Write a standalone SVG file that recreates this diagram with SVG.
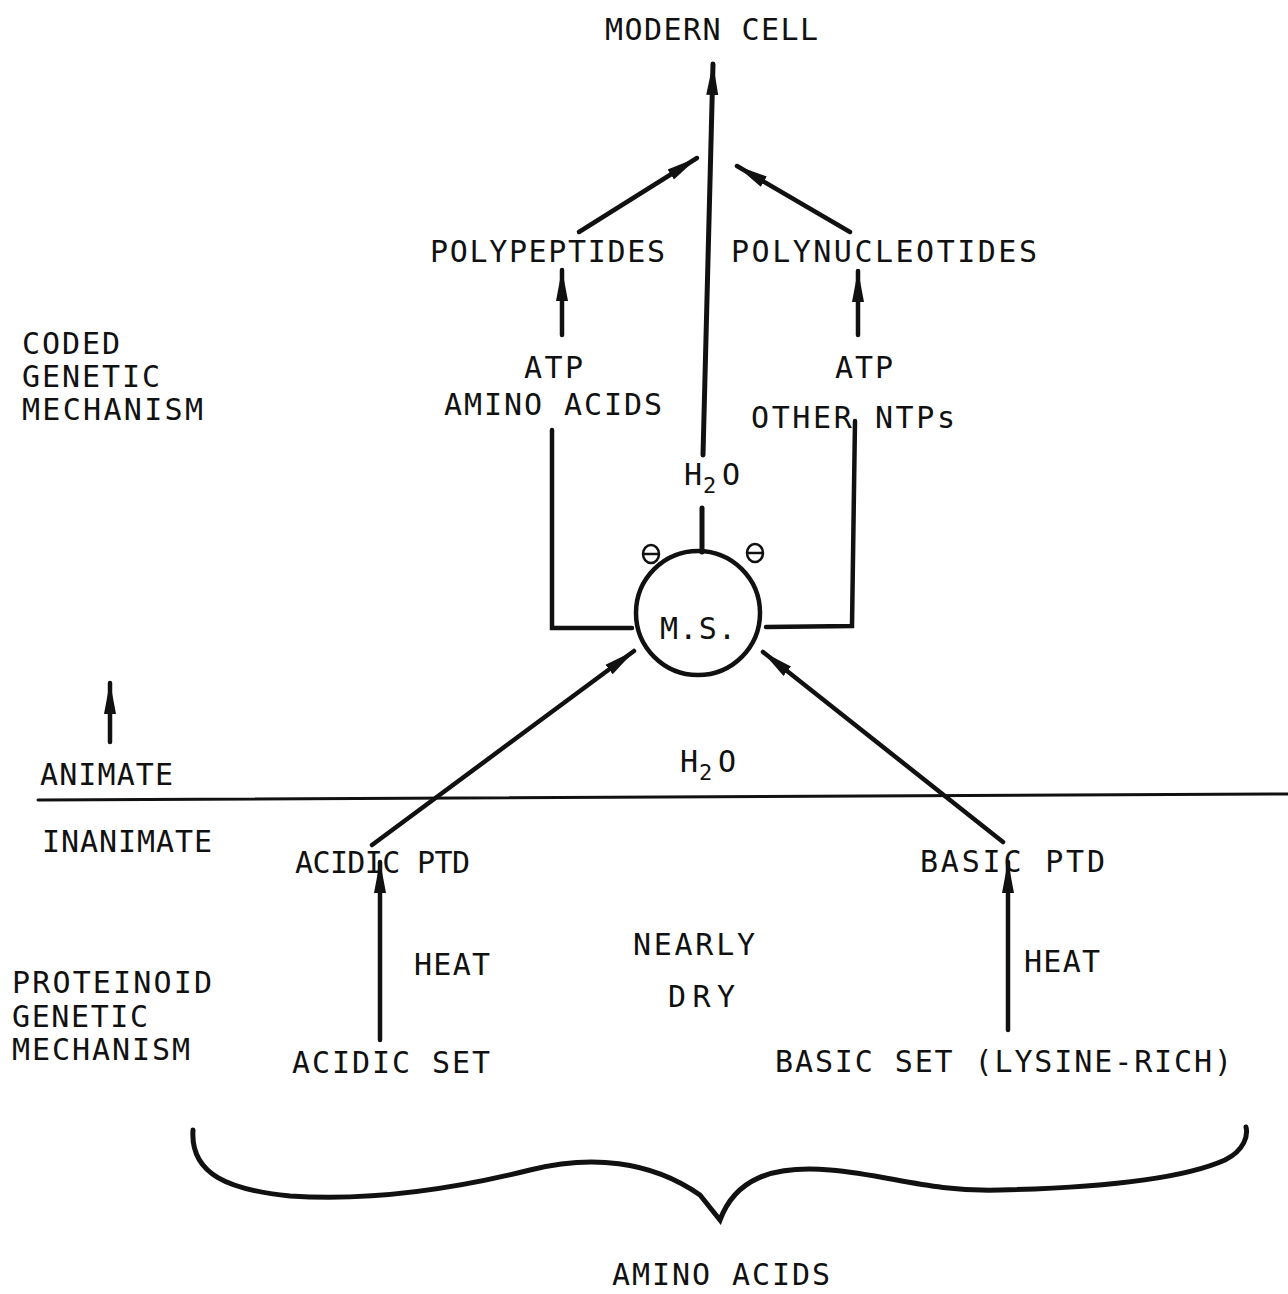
<svg xmlns="http://www.w3.org/2000/svg" width="1288" height="1294" viewBox="0 0 1288 1294">
<defs>
<style>
.t{font-family:"DejaVu Sans Mono","Liberation Mono",monospace;font-size:30px;fill:#111;}
.ln{stroke:#111;stroke-width:4.5;fill:none;stroke-linecap:round;stroke-linejoin:miter;}
.neg{stroke:#111;stroke-width:2.5;fill:none;}
</style>
<marker id="ah" viewBox="0 0 32 14" refX="31" refY="7" markerWidth="32" markerHeight="14" markerUnits="userSpaceOnUse" orient="auto">
<path d="M0,1 L32,7 L0,13 z" fill="#111"/>
</marker>
</defs>
<rect width="1288" height="1294" fill="#fff"/>
<g id="connectors">
<line class="ln" x1="703" y1="455" x2="713" y2="64" marker-end="url(#ah)" style="stroke-width:5"/>
<line class="ln" x1="702" y1="508" x2="702" y2="552" style="stroke-width:5"/>
<line class="ln" x1="579" y1="232" x2="697" y2="158" marker-end="url(#ah)"/>
<line class="ln" x1="850" y1="232" x2="737" y2="166" marker-end="url(#ah)"/>
<line class="ln" x1="562" y1="335" x2="562" y2="270" marker-end="url(#ah)"/>
<line class="ln" x1="858" y1="335" x2="858" y2="271" marker-end="url(#ah)"/>
<polyline class="ln" points="552,430 552,628 632,628"/>
<polyline class="ln" points="855,421 852,626 766,627"/>
<line class="ln" x1="372" y1="845" x2="634" y2="651" marker-end="url(#ah)"/>
<line class="ln" x1="1003" y1="842" x2="763" y2="652" marker-end="url(#ah)"/>
<line class="ln" x1="38" y1="800" x2="1288" y2="794" style="stroke-width:3"/>
<line class="ln" x1="110" y1="742" x2="110" y2="683" marker-end="url(#ah)"/>
<line class="ln" x1="380" y1="1040" x2="380" y2="862" marker-end="url(#ah)"/>
<line class="ln" x1="1008" y1="1030" x2="1008" y2="862" marker-end="url(#ah)"/>
<path class="ln" style="stroke-width:5" d="M193,1130 C190,1175 230,1190 290,1196 C380,1202 470,1185 530,1170 C590,1155 650,1160 700,1195 L720,1220 C735,1180 770,1165 830,1170 C890,1175 930,1192 1000,1190 C1090,1188 1180,1180 1225,1160 C1245,1150 1248,1135 1246,1127"/>
</g>
<g id="modern-cell"><text class="t" x="605" y="40" textLength="213">MODERN CELL</text></g>
<g id="polypeptides"><text class="t" x="430" y="262" textLength="235">POLYPEPTIDES</text></g>
<g id="polynucleotides"><text class="t" x="731" y="262" textLength="306">POLYNUCLEOTIDES</text></g>
<g id="coded-label">
<text class="t" x="22" y="354" textLength="98">CODED</text>
<text class="t" x="22" y="387" textLength="138">GENETIC</text>
<text class="t" x="22" y="420" textLength="181">MECHANISM</text>
</g>
<g id="atp-amino">
<text class="t" x="524" y="378" textLength="59">ATP</text>
<text class="t" x="444" y="415" textLength="218">AMINO ACIDS</text>
</g>
<g id="atp-ntps">
<text class="t" x="835" y="378" textLength="58">ATP</text>
<text class="t" x="751" y="428" textLength="204">OTHER NTPs</text>
</g>
<g id="h2o-upper">
<text class="t" x="684" y="485">H</text>
<text class="t" x="703" y="493" style="font-size:22px">2</text>
<text class="t" x="722" y="485">O</text>
</g>
<g id="ms">
<circle cx="698" cy="613" r="62" class="ln"/>
<text class="t" x="660" y="639" textLength="76">M.S.</text>
<g id="neg-left"><ellipse class="neg" cx="651" cy="554" rx="8" ry="9"/><line class="neg" x1="643" y1="554" x2="659" y2="554"/></g>
<g id="neg-right"><ellipse class="neg" cx="755" cy="553" rx="8" ry="9"/><line class="neg" x1="747" y1="553" x2="763" y2="553"/></g>
</g>
<g id="animate-labels">
<text class="t" x="40" y="785" textLength="133">ANIMATE</text>
<text class="t" x="42" y="852" textLength="170">INANIMATE</text>
</g>
<g id="h2o-lower">
<text class="t" x="680" y="772">H</text>
<text class="t" x="699" y="780" style="font-size:22px">2</text>
<text class="t" x="718" y="772">O</text>
</g>
<g id="acidic-ptd"><text class="t" x="295" y="873" textLength="175">ACIDIC PTD</text></g>
<g id="basic-ptd"><text class="t" x="920" y="872" textLength="185">BASIC PTD</text></g>
<g id="heat-left"><text class="t" x="414" y="975" textLength="76">HEAT</text></g>
<g id="heat-right"><text class="t" x="1024" y="972" textLength="76">HEAT</text></g>
<g id="nearly-dry">
<text class="t" x="633" y="955" textLength="122">NEARLY</text>
<text class="t" x="668" y="1007" textLength="67">DRY</text>
</g>
<g id="proteinoid-label">
<text class="t" x="12" y="993" textLength="200">PROTEINOID</text>
<text class="t" x="12" y="1027" textLength="136">GENETIC</text>
<text class="t" x="12" y="1060" textLength="178">MECHANISM</text>
</g>
<g id="acidic-set"><text class="t" x="292" y="1073" textLength="198">ACIDIC SET</text></g>
<g id="basic-set"><text class="t" x="775" y="1072" textLength="457">BASIC SET (LYSINE-RICH)</text></g>
<g id="amino-acids"><text class="t" x="612" y="1285" textLength="218">AMINO ACIDS</text></g>
</svg>
